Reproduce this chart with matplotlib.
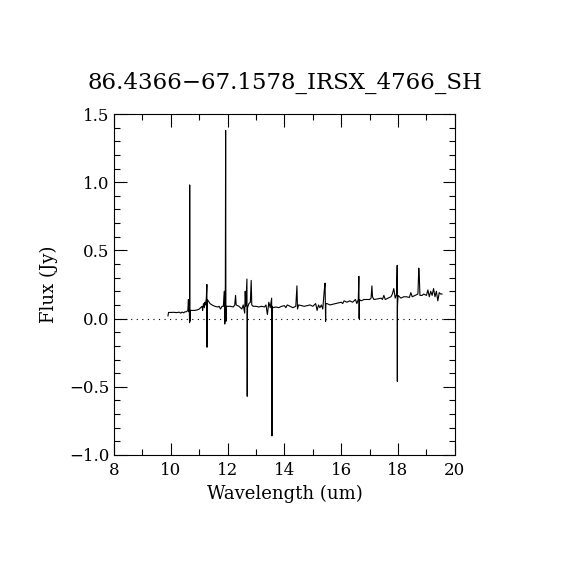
import matplotlib
matplotlib.use('Agg')
import matplotlib.pyplot as plt
from matplotlib.ticker import MultipleLocator

title = '86.4366\u221267.1578_IRSX_4766_SH'

# spectrum (wavelength in um, flux in Jy)
wave = [9.90, 9.92, 9.95, 10.00, 10.10, 10.20, 10.30, 10.35, 10.40, 10.45,
        10.50, 10.55, 10.60, 10.62, 10.63, 10.65, 10.66, 10.665, 10.67, 10.68,
        10.75, 10.85, 10.95, 11.00, 11.05, 11.10, 11.12, 11.15, 11.18, 11.20,
        11.22, 11.25, 11.27, 11.275, 11.28, 11.32, 11.38, 11.45, 11.55, 11.65,
        11.70, 11.75, 11.80, 11.85, 11.88, 11.90, 11.92, 11.93, 11.94, 11.96,
        12.00, 12.10, 12.20, 12.25, 12.28, 12.30, 12.40, 12.45, 12.50, 12.55,
        12.60, 12.62, 12.64, 12.68, 12.69, 12.70, 12.75, 12.80, 12.83, 12.85,
        12.90, 13.00, 13.10, 13.20, 13.30, 13.35, 13.40, 13.45, 13.50, 13.55,
        13.56, 13.57, 13.60, 13.70, 13.80, 13.90, 14.00, 14.05, 14.10, 14.20,
        14.30, 14.40, 14.44, 14.46, 14.50, 14.60, 14.70, 14.80, 14.90, 15.00,
        15.10, 15.15, 15.20, 15.25, 15.30, 15.35, 15.40, 15.43, 15.44, 15.45,
        15.46, 15.50, 15.60, 15.70, 15.80, 15.90, 16.00, 16.05, 16.10, 16.20,
        16.30, 16.40, 16.50, 16.55, 16.60, 16.62, 16.63, 16.64, 16.70, 16.80,
        16.90, 17.00, 17.05, 17.08, 17.10, 17.15, 17.30, 17.40, 17.45, 17.50,
        17.55, 17.65, 17.75, 17.80, 17.85, 17.90, 17.95, 17.97, 17.975, 17.98,
        18.00, 18.10, 18.20, 18.30, 18.40, 18.45, 18.50, 18.60, 18.70, 18.73,
        18.75, 18.77, 18.85, 18.90, 19.00, 19.05, 19.10, 19.15, 19.20, 19.25,
        19.30, 19.35, 19.40, 19.45, 19.50, 19.55]
flux = [0.02, 0.045, 0.045, 0.045, 0.046, 0.044, 0.047, 0.040, 0.048, 0.042,
        0.050, 0.050, 0.060, 0.140, 0.050, 0.100, -0.030, 0.980, -0.020, 0.060,
        0.060, 0.060, 0.065, 0.070, 0.080, 0.090, 0.060, 0.110, 0.080, 0.120,
        0.100, 0.150, 0.250, -0.210, 0.140, 0.130, 0.110, 0.100, 0.090, 0.085,
        0.090, 0.070, 0.090, 0.090, 0.200, -0.040, 0.250, 1.380, -0.020, 0.090,
        0.090, 0.090, 0.085, 0.100, 0.170, 0.100, 0.090, 0.080, 0.070, 0.100,
        0.040, 0.200, 0.090, 0.290, -0.570, 0.080, 0.110, 0.120, 0.280, 0.100,
        0.090, 0.090, 0.085, 0.090, 0.085, 0.100, 0.030, 0.120, 0.080, 0.150,
        -0.860, 0.090, 0.080, 0.085, 0.080, 0.090, 0.095, 0.080, 0.100, 0.090,
        0.080, 0.090, 0.240, 0.070, 0.100, 0.095, 0.090, 0.095, 0.100, 0.090,
        0.110, 0.060, 0.100, 0.080, 0.100, 0.070, 0.200, 0.260, 0.100, -0.020,
        0.110, 0.110, 0.100, 0.105, 0.110, 0.115, 0.120, 0.110, 0.130, 0.120,
        0.130, 0.120, 0.140, 0.110, 0.140, 0.310, 0.000, 0.140, 0.130, 0.140,
        0.140, 0.140, 0.150, 0.240, 0.160, 0.140, 0.145, 0.150, 0.140, 0.170,
        0.140, 0.150, 0.160, 0.180, 0.220, 0.150, 0.180, 0.390, -0.460, 0.090,
        0.170, 0.150, 0.160, 0.160, 0.155, 0.190, 0.160, 0.170, 0.180, 0.370,
        0.300, 0.170, 0.170, 0.180, 0.170, 0.210, 0.160, 0.200, 0.170, 0.220,
        0.160, 0.200, 0.130, 0.190, 0.180, 0.180]

plt.rcParams['font.family'] = ['DejaVu Serif']
fig = plt.figure(figsize=(5.7, 5.7), dpi=100)
ax = fig.add_axes([0.2, 0.2018, 0.598, 0.5982])

ax.plot(wave, flux, color='black', lw=0.8)
ax.axhline(0, color='black', lw=0.8, ls=(0, (1, 4)))

ax.set_xlim(8, 20)
ax.set_ylim(-1.0, 1.5)
ax.xaxis.set_major_locator(MultipleLocator(2))
ax.xaxis.set_minor_locator(MultipleLocator(1))
ax.yaxis.set_major_locator(MultipleLocator(0.5))
ax.yaxis.set_minor_locator(MultipleLocator(0.1))
ax.yaxis.set_major_formatter(plt.FuncFormatter(lambda v, p: ('%.1f' % v).replace('-', '\u2212')))
ax.tick_params(which='both', direction='in', top=True, right=True, labelsize=12, width=0.8)
ax.tick_params(which='major', length=9)
ax.tick_params(which='minor', length=4)
ax.tick_params(axis='x', which='major', pad=5)
for s in ax.spines.values():
    s.set_linewidth(0.8)

ax.set_xlabel('Wavelength (um)', fontsize=13, labelpad=4)
ax.set_ylabel('Flux (Jy)', fontsize=13, labelpad=8)
fig.text(0.5, 0.855, title, ha='center', va='center', fontsize=16.5)

fig.savefig('out.png', dpi=100)
